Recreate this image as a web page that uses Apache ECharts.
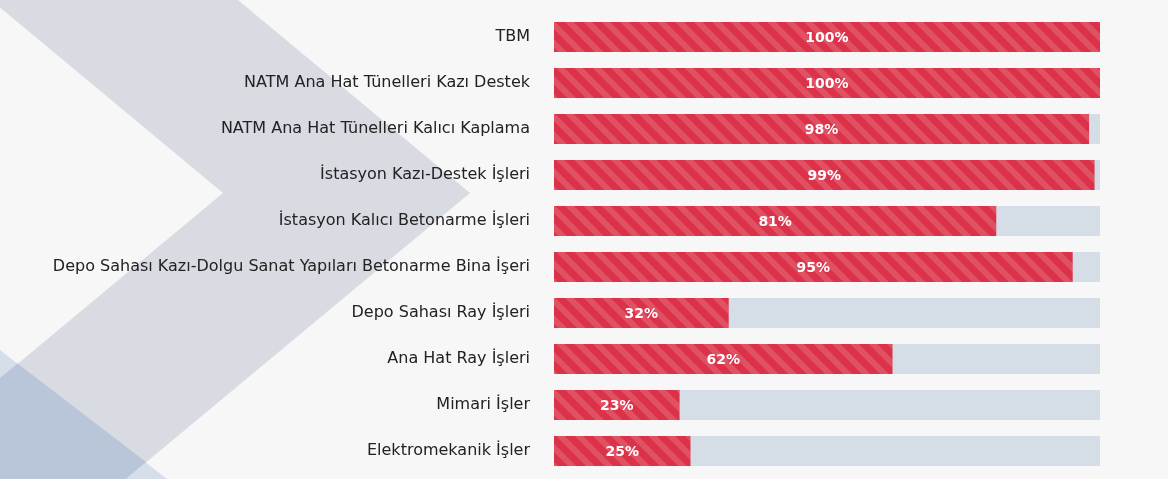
<!DOCTYPE html>
<html><head><meta charset="utf-8">
<script src="https://cdn.jsdelivr.net/npm/echarts@6/dist/echarts.min.js"></script>
<style>html,body{margin:0;padding:0;background:#f7f7f7}#c{width:1168px;height:479px}</style>
</head><body><div id="c"></div>
<script>
const categories = [
  "TBM",
  "NATM Ana Hat Tünelleri Kazı Destek",
  "NATM Ana Hat Tünelleri Kalıcı Kaplama",
  "İstasyon Kazı-Destek İşleri",
  "İstasyon Kalıcı Betonarme İşleri",
  "Depo Sahası Kazı-Dolgu Sanat Yapıları Betonarme Bina İşeri",
  "Depo Sahası Ray İşleri",
  "Ana Hat Ray İşleri",
  "Mimari İşler",
  "Elektromekanik İşler"
];
const progress = [100, 100, 98, 99, 81, 95, 32, 62, 23, 25];

const chart = echarts.init(document.getElementById('c'), null, {renderer: 'canvas'});
chart.setOption({
  backgroundColor: '#f7f7f7',
  animation: false,
  graphic: [
    {type: 'polygon', z: -10, shape: {points: [[0,350],[167,479],[0,479]]}, style: {fill: '#d6dee9'}},
    {type: 'polygon', z: -9, shape: {points: [[-9,0],[238,0],[470,193],[126,479],[-121,479],[223,193]]}, style: {fill: '#d8dbe2'}},
    {type: 'polygon', z: -8, shape: {points: [[0,378],[17.5,363.5],[146,462],[125.5,479],[0,479]]}, style: {fill: '#b9c5d9'}}
  ],
  grid: {left: 554, right: 68, top: 14, bottom: 5, containLabel: false},
  xAxis: {type: 'value', min: 0, max: 100, show: false},
  yAxis: {
    type: 'category', data: categories, inverse: true,
    axisLine: {show: false}, axisTick: {show: false},
    axisLabel: {color: '#222222', fontSize: 16, fontFamily: 'DejaVu Sans', margin: 24}
  },
  series: [{
    type: 'bar', data: progress, barWidth: 30,
    showBackground: true,
    backgroundStyle: {color: '#d5dee7'},
    itemStyle: {
      color: '#dc3249',
      decal: {symbol: 'rect', symbolSize: 1, dashArrayX: [1, 0], dashArrayY: [6, 7], rotation: Math.PI / 4, color: 'rgba(255,255,255,0.15)'}
    },
    label: {show: true, position: 'inside', offset: [0, 1], formatter: '{c}%', color: '#fff', fontWeight: 'bold', fontSize: 14, fontFamily: 'DejaVu Sans'}
  }]
});
</script></body></html>
